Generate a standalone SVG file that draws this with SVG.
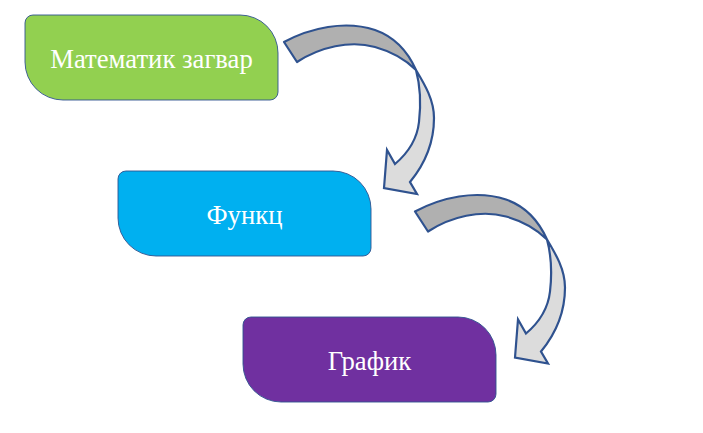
<svg xmlns="http://www.w3.org/2000/svg" width="703" height="433" viewBox="0 0 703 433">
<style>
.node{stroke:#2F528F;stroke-width:0.9}
.lbl{font-family:"Liberation Serif","Times New Roman",serif;font-size:26.7px;fill:#FFFFFF;text-anchor:middle}
.dark{fill:#B0B0B0;stroke:#2F528F;stroke-width:2.2;stroke-linejoin:round}
.light{fill:#DCDCDC;stroke:#2F528F;stroke-width:2.2;stroke-linejoin:miter}
</style>
<defs>
<path id="shape" d="M8,0 H215 A38,38 0 0 1 253,38 V77 A8,8 0 0 1 245,85 H38 A38,38 0 0 1 0,47 V8 A8,8 0 0 1 8,0 Z"/>
<g id="curved">
<path class="dark" d="M284,42 C310,28 345,20 375,30 C395,37 408,52 416,70 C406,60 393,52 375,47 C350,40 320,47 297,62 Z"/>
<path class="light" d="M416,70 C425,85 434,100 434,118 C434,145 424,165 410,182 L417,194 L384,188 L387,150 L395,164 C408,153 417,140 419,122 C421,105 420,85 416,70 Z"/>
</g>
</defs>
<rect width="703" height="433" fill="#FFFFFF"/>
<g id="connectors">
<use href="#curved"/>
<use href="#curved" transform="translate(131,169.5)"/>
</g>
<g id="node-model" transform="translate(25,15)">
<use href="#shape" class="node" fill="#92D050"/>
<text class="lbl" x="126.5" y="52.5">Математик загвар</text>
</g>
<g id="node-function" transform="translate(118,171)">
<use href="#shape" class="node" fill="#00B0F0"/>
<text class="lbl" x="126.5" y="53">Функц</text>
</g>
<g id="node-graph" transform="translate(243,317)">
<use href="#shape" class="node" fill="#7030A0"/>
<text class="lbl" x="126.5" y="52.5">График</text>
</g>
</svg>
